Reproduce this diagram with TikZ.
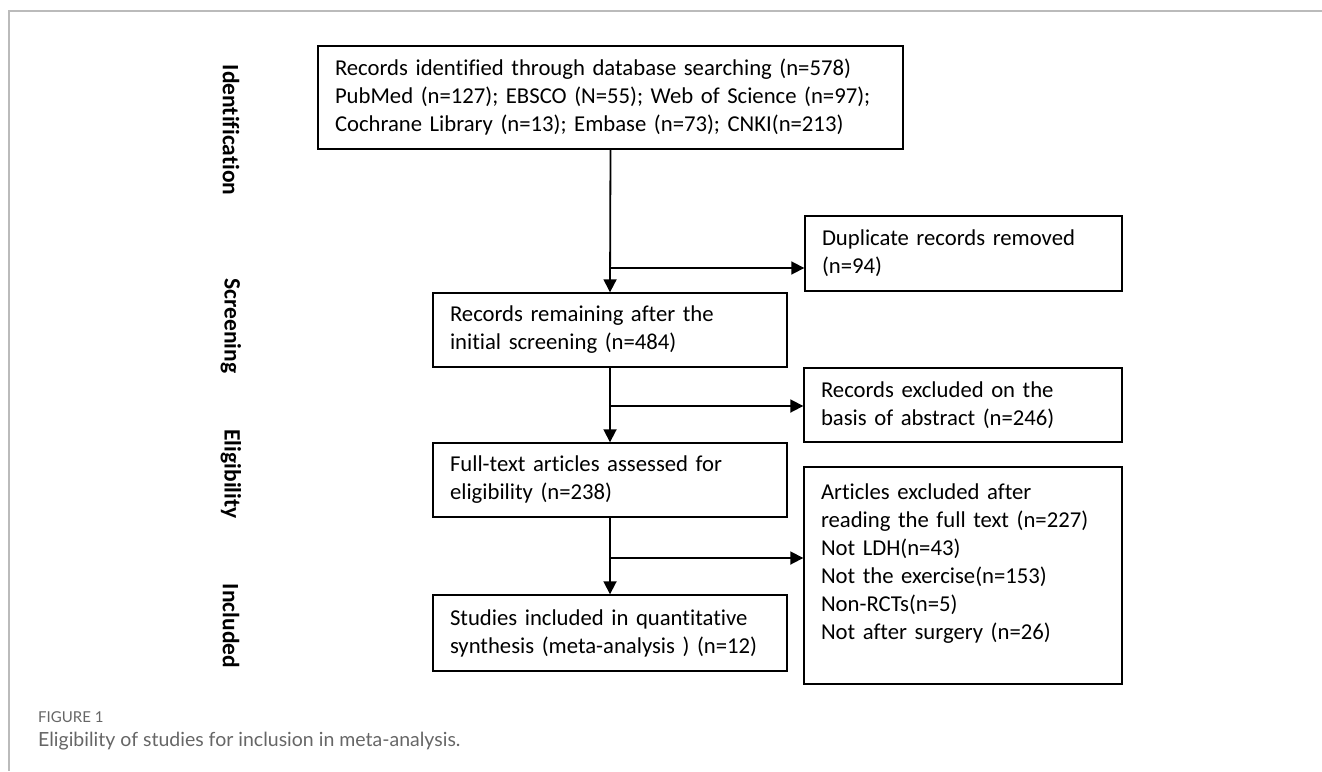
\documentclass[tikz,border=0pt]{standalone}
\usepackage{fontspec}
\setmainfont{Carlito}[Ligatures={NoCommon}]
\newfontfamily\capfont{Lato}[Ligatures={NoCommon}]
\usetikzlibrary{arrows.meta}
\definecolor{framegray}{HTML}{BBBBBB}
\definecolor{capgray}{HTML}{666666}
\tikzset{
  flowbox/.style={draw=black, line width=1.4pt, rectangle, align=left,
    inner xsep=17pt, inner ysep=0pt, font=\fontsize{22.7}{28}\selectfont,
    text width=#1},
  flowbox/.default=300pt,
  conn/.style={line width=1.8pt, -{Triangle[length=13pt,width=13pt]}},
  phase/.style={rotate=-90, font=\fontsize{23.5}{26}\bfseries\selectfont},
}
\begin{document}
\begin{tikzpicture}[x=1pt,y=-1pt]
\useasboundingbox (0,0) rectangle (1322,771);
\draw[framegray, line width=1.5pt] (1322,11) -- (9,11) -- (9,771);

\node[flowbox=551pt, minimum width=585pt, minimum height=103pt] (b1) at (610.5,97.5)
 {Records identified through database searching (n=578)\\
  PubMed (n=127); EBSCO (N=55); Web of Science (n=97);\\
  Cochrane Library (n=13); Embase (n=73); CNKI(n=213)};
\node[flowbox=283pt, minimum width=317pt, minimum height=75pt] (b2) at (963.5,253.5)
 {Duplicate records removed\\(n=94)};
\node[flowbox=320pt, minimum width=354pt, minimum height=74pt] (b3) at (610,330)
 {Records remaining after the\\initial screening (n=484)};
\node[flowbox=284pt, minimum width=318pt, minimum height=74pt] (b4) at (963,405)
 {Records excluded on the\\basis of abstract (n=246)};
\node[flowbox=320pt, minimum width=354pt, minimum height=74pt] (b5) at (610,480)
 {Full-text articles assessed for\\eligibility (n=238)};
\node[flowbox=284pt, minimum width=318pt, minimum height=217pt] (b6) at (963,575.5)
 {Articles excluded after\\reading the full text (n=227)\\Not LDH(n=43)\\Not the exercise(n=153)\\Non-RCTs(n=5)\\Not after surgery (n=26)\\\mbox{}};
\node[flowbox=320pt, minimum width=354pt, minimum height=76pt] (b7) at (610,633)
 {Studies included in quantitative\\synthesis (meta-analysis ) (n=12)};

\coordinate (j1) at (610,268);
\coordinate (j2) at (610,406);
\coordinate (j3) at (610,558);

\draw[conn] (b1.south) -- (b3.north);
\draw[conn] (j1) -- (j1 -| b2.west);
\draw[conn] (b3.south) -- (b5.north);
\draw[conn] (j2) -- (j2 -| b4.west);
\draw[conn] (b5.south) -- (b7.north);
\draw[conn] (j3) -- (j3 -| b6.west);

\node[phase] (p1) at (231,130) {Identification};
\node[phase] (p2) at (231,326) {Screening};
\node[phase] (p3) at (231,474) {Eligibility};
\node[phase] (p4) at (231,626) {Included};

\node[anchor=base west, inner sep=0pt, text=capgray, font=\capfont\fontsize{15}{17}\selectfont] (cap1) at (38,722) {FIGURE 1};
\node[anchor=base west, inner sep=0pt, text=capgray, font=\capfont\fontsize{19.5}{22}\selectfont] (cap2) at (38,746) {Eligibility of studies for inclusion in meta-analysis.};
\end{tikzpicture}
\end{document}
